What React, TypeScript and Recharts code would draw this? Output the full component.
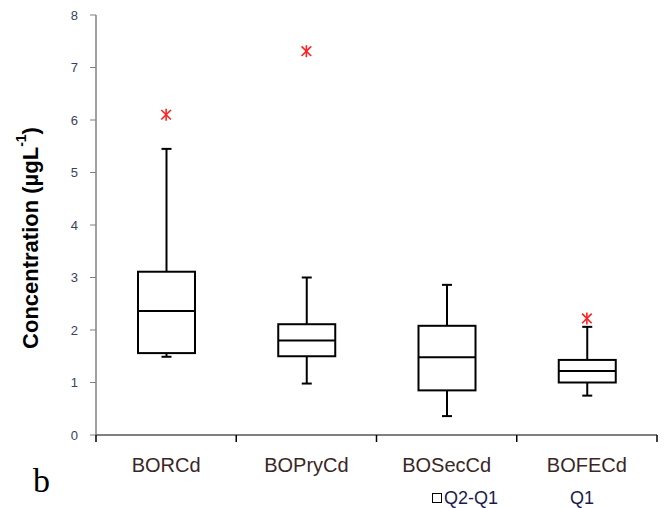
import React from 'react'
import { ComposedChart, Bar, Scatter, XAxis, YAxis } from 'recharts'

const categories = ['BORCd', 'BOPryCd', 'BOSecCd', 'BOFECd']
const whiskerLow = [1.49, 0.98, 0.36, 0.75]
const q1 = [1.56, 1.5, 0.85, 1.0]
const median = [2.36, 1.8, 1.48, 1.22]
const q3 = [3.11, 2.11, 2.08, 1.43]
const whiskerHigh = [5.45, 3.0, 2.86, 2.06]
const outliers: (number | null)[] = [6.1, 7.31, null, 2.22]
const yTicks = [0, 1, 2, 3, 4, 5, 6, 7, 8]

const data = categories.map((name, i) => ({
  name,
  box: [q1[i], q3[i]],
  lo: whiskerLow[i],
  q1: q1[i],
  med: median[i],
  q3: q3[i],
  hi: whiskerHigh[i],
  outlier: outliers[i],
}))

const FONT = 'Arial, "Liberation Sans", sans-serif'
const LABEL_GAP = 23

// box, median and whiskers, scaled from the bar the library positions for [q1, q3]
const BoxShape = (props: any) => {
  const { x, y, width, height, payload } = props
  const top = Math.min(y, y + height)
  const h = Math.abs(height)
  const k = h / (payload.q3 - payload.q1)
  const base = top + h
  const py = (v: number) => base - (v - payload.q1) * k
  const cx = x + width / 2
  const cap = 5
  const s = { stroke: '#000', strokeWidth: 2, fill: 'none' }
  return (
    <g>
      <line x1={cx} x2={cx} y1={py(payload.hi)} y2={top} {...s} />
      <line x1={cx - cap} x2={cx + cap} y1={py(payload.hi)} y2={py(payload.hi)} {...s} />
      <line x1={cx} x2={cx} y1={base} y2={py(payload.lo)} {...s} />
      <line x1={cx - cap} x2={cx + cap} y1={py(payload.lo)} y2={py(payload.lo)} {...s} />
      <rect x={x} y={top} width={width} height={h} {...s} fill="#fff" />
      <line x1={x} x2={x + width} y1={py(payload.med)} y2={py(payload.med)} {...s} />
    </g>
  )
}

const Star = (props: any) => {
  const { cx, cy, payload } = props
  if (payload == null || payload.outlier == null || cx == null || cy == null) return <g />
  const r = 6
  const s = { stroke: '#ff2020', strokeWidth: 1.6 }
  return (
    <g>
      <line x1={cx - r * 0.8} x2={cx + r * 0.8} y1={cy - r * 0.8} y2={cy + r * 0.8} {...s} />
      <line x1={cx - r * 0.8} x2={cx + r * 0.8} y1={cy + r * 0.8} y2={cy - r * 0.8} {...s} />
      <line x1={cx} x2={cx} y1={cy - r} y2={cy + r} {...s} />
    </g>
  )
}

// category label plus tick marks on the band edges
const CategoryTick = (props: any) => {
  const { x, y, payload, index } = props
  const off = payload.offset || 0
  const axisY = y - LABEL_GAP
  const t = { stroke: '#000', strokeWidth: 1.5 }
  return (
    <g>
      {index === 0 && <line x1={x - off} x2={x - off} y1={axisY} y2={axisY + 7} {...t} />}
      <line x1={x + off} x2={x + off} y1={axisY} y2={axisY + 7} {...t} />
      <text x={x} y={y} dy="0.71em" textAnchor="middle" fontSize={20} fill="#3a2626" fontFamily={FONT}>
        {payload.value}
      </text>
    </g>
  )
}

const YTitle = () => (
  <text
    x={30}
    y={238}
    transform="rotate(-90 30 238)"
    textAnchor="middle"
    dominantBaseline="central"
    fontFamily={FONT}
    fontWeight="bold"
    fontSize={22}
    fill="#000"
  >
    Concentration (µgL
    <tspan fontSize={14} dy={-9}>-1</tspan>
    <tspan dy={9}>)</tspan>
  </text>
)

export default function App() {
  return (
    <div style={{ position: 'absolute', left: 0, top: 0, width: 671, height: 508, background: '#fff' }}>
      <ComposedChart
        width={671}
        height={508}
        data={data}
        margin={{ top: 15, right: 14, bottom: 33, left: 0 }}
      >
        <XAxis
          dataKey="name"
          height={40}
          tickLine={false}
          tickSize={0}
          tickMargin={LABEL_GAP}
          axisLine={{ stroke: '#808080', strokeWidth: 2 }}
          tick={<CategoryTick />}
        />
        <YAxis
          domain={[0, 8]}
          ticks={yTicks}
          width={96}
          tickSize={6}
          tickMargin={12}
          axisLine={{ stroke: '#808080', strokeWidth: 1.5 }}
          tickLine={{ stroke: '#808080' }}
          tick={{ fontSize: 13, fill: '#3a4060', fontFamily: FONT }}
          label={<YTitle />}
        />
        <Bar dataKey="box" barSize={57} shape={<BoxShape />} isAnimationActive={false} />
        <Scatter dataKey="outlier" shape={<Star />} isAnimationActive={false} />
      </ComposedChart>
      <div
        style={{
          position: 'absolute',
          left: 33,
          top: 462,
          fontFamily: '"Times New Roman", "Liberation Serif", serif',
          fontSize: 34,
          lineHeight: '38px',
        }}
      >
        b
      </div>
      <div
        style={{
          position: 'absolute',
          left: 432,
          top: 488,
          fontFamily: FONT,
          fontSize: 18,
          lineHeight: '20px',
          color: '#1a1a50',
          display: 'flex',
          alignItems: 'center',
        }}
      >
        <span style={{ display: 'inline-block', width: 8, height: 8, border: '1px solid #000', marginRight: 2 }} />
        Q2-Q1
      </div>
      <div
        style={{
          position: 'absolute',
          left: 570,
          top: 488,
          fontFamily: FONT,
          fontSize: 18,
          lineHeight: '20px',
          color: '#1a1a50',
        }}
      >
        Q1
      </div>
    </div>
  )
}
